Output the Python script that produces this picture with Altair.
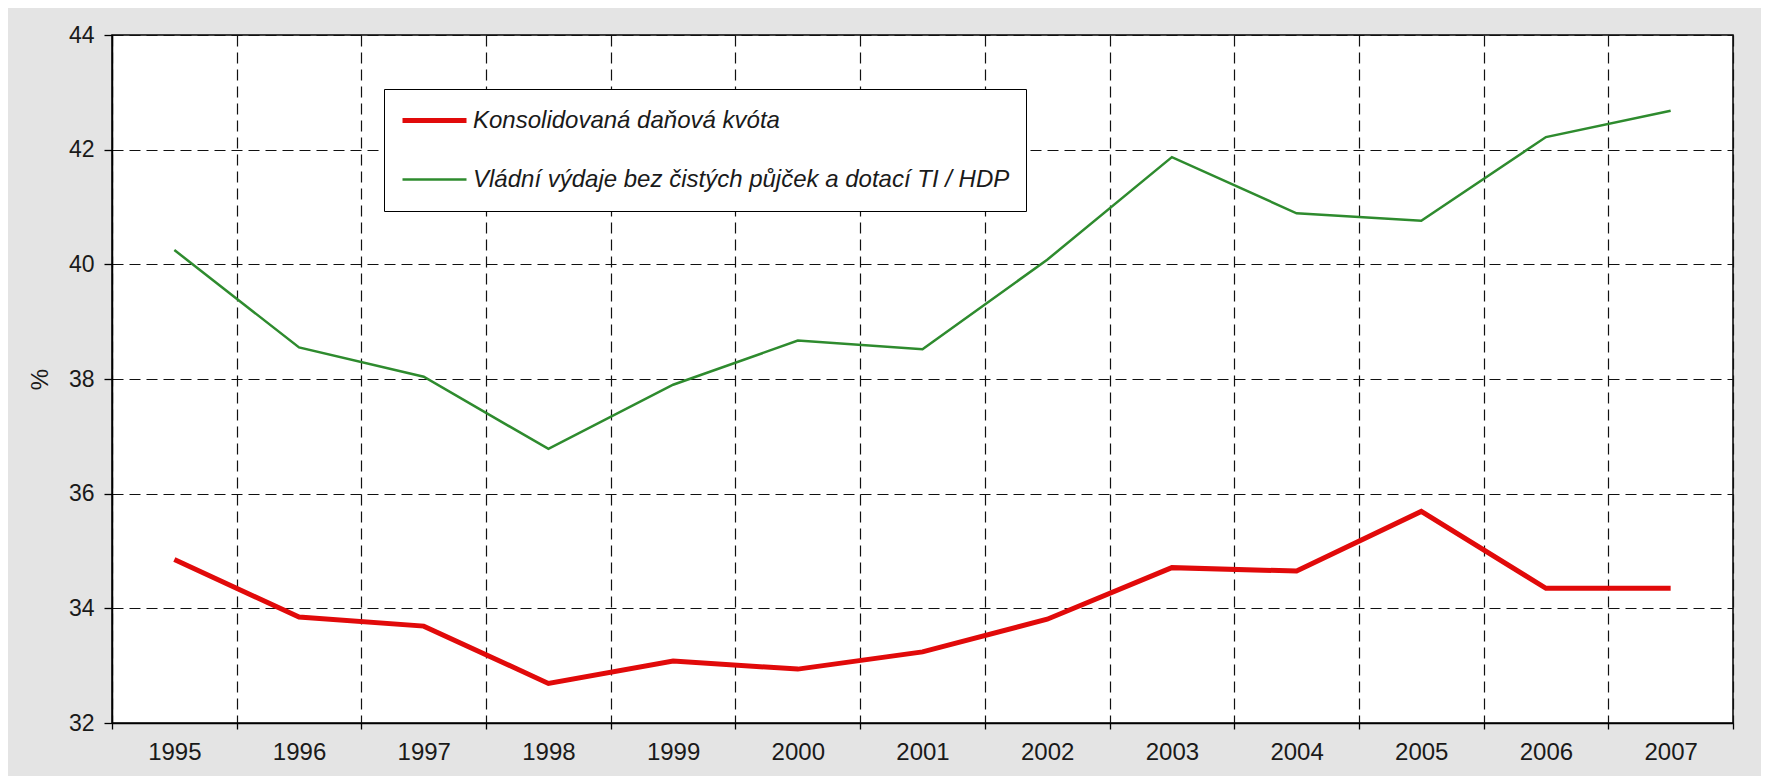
import altair as alt
import pandas as pd

years = ["1995", "1996", "1997", "1998", "1999", "2000", "2001",
         "2002", "2003", "2004", "2005", "2006", "2007"]
dan_kvota = [34.85, 33.85, 33.69, 32.69, 33.08, 32.94, 33.24,
             33.81, 34.71, 34.65, 35.69, 34.35, 34.35]
vydaje = [40.25, 38.55, 38.04, 36.78, 37.90, 38.67, 38.52,
          40.08, 41.87, 40.89, 40.76, 42.22, 42.68]
series_names = ["Konsolidovaná daňová kvóta",
                "Vládní výdaje bez čistých půjček a dotací TI / HDP"]
y_ticks = [32, 34, 36, 38, 40, 42, 44]

rows = []
for name, vals in zip(series_names, [dan_kvota, vydaje]):
    for yr, v in zip(years, vals):
        rows.append({"rok": yr, "hodnota": v, "serie": name})
df = pd.DataFrame(rows)

FONT = "Liberation Sans"

leg = alt.Legend(title=None, orient="none", legendX=272, legendY=54)

chart = alt.Chart(df).mark_line(strokeJoin="miter").encode(
    x=alt.X("rok:O",
            scale=alt.Scale(type="band", paddingInner=0, paddingOuter=0),
            axis=alt.Axis(title=None, labelAngle=0, tickBand="extent",
                          tickSize=6, labelPadding=11, labelFontSize=24,
                          grid=True)),
    y=alt.Y("hodnota:Q",
            scale=alt.Scale(domain=[32, 44], nice=False, zero=False),
            axis=alt.Axis(title="%", values=y_ticks, tickSize=8,
                          labelPadding=10, labelFontSize=23,
                          titleFontSize=24, titleFontWeight="normal",
                          titlePadding=16, grid=True)),
    color=alt.Color("serie:N",
                    scale=alt.Scale(domain=series_names,
                                    range=["#e10a0a", "#2e8b2e"]),
                    legend=leg),
    strokeWidth=alt.StrokeWidth("serie:N",
                                scale=alt.Scale(domain=series_names,
                                                range=[5, 2.5]),
                                legend=leg),
    order=alt.Order("rok:O"),
).properties(
    width=1621, height=688,
    autosize=alt.AutoSizeParams(type="none"),
    padding={"left": 104, "top": 27, "right": 28, "bottom": 53},
    background="#e4e4e4",
).configure_view(
    fill="white", stroke="black", strokeWidth=1.5
).configure_axis(
    labelFont=FONT, titleFont=FONT, labelColor="#1a1a1a", titleColor="#1a1a1a",
    domainColor="black", domainWidth=1.5, tickColor="black", tickWidth=1.3,
    gridColor="#111111", gridDash=[11, 6], gridWidth=1.2, gridOpacity=1,
).configure_legend(
    symbolType="stroke", symbolSize=4096, labelFont=FONT,
    labelFontStyle="italic", labelFontSize=24, labelColor="#1a1a1a",
    labelLimit=900, labelOffset=4, rowPadding=28, padding=16,
    clipHeight=31,
    strokeColor="black", fillColor="white", symbolOpacity=1,
)

chart.save("out.html", embed_options={"renderer": "svg", "actions": False})
